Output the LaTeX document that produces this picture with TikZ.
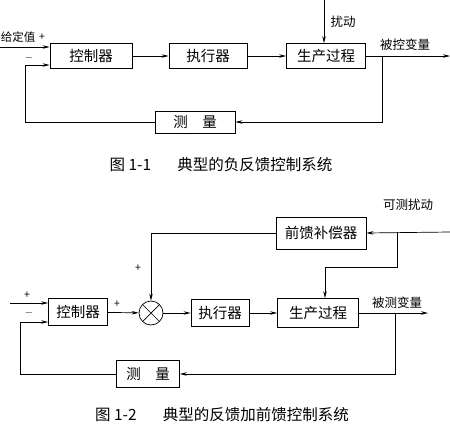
\documentclass[tikz,border=0pt]{standalone}
\usepackage{fontspec}
\setmainfont{Noto Sans CJK SC}
\usetikzlibrary{arrows.meta,calc}

\begin{document}
\begin{tikzpicture}[x=1pt,y=-1pt,
    blk/.style={draw, minimum height=25pt, inner sep=2pt, font=\fontsize{14.5pt}{16pt}\selectfont},
    lbl/.style={inner sep=1pt, font=\fontsize{12.5pt}{14pt}\selectfont},
    sgn/.style={inner sep=0pt, font=\fontsize{10.5pt}{12pt}\selectfont},
    figcap/.style={font=\fontsize{15.5pt}{17pt}\selectfont},
    every path/.style={line width=0.7pt},
    >={Stealth[length=7pt,width=3.5pt]}]
    \useasboundingbox (0,0) rectangle (450,437);

    % Fig 1-1: negative feedback loop
    \node[blk, minimum width=82pt] (ctrl) at (91,56) {控制器};
    \node[blk, minimum width=78pt] (exec) at (208,56) {执行器};
    \node[blk, minimum width=79pt] (proc) at (326,56) {生产过程};
    \node[blk, minimum width=80pt, minimum height=22pt] (meas) at (195,122) {测\quad 量};
    \coordinate (in1) at (0,47);
    \coordinate (out1) at (450,56);
    \coordinate (br1) at (382,56);
    \coordinate (fb1) at (25,65);
    \coordinate (d1) at (324,0);
    \draw[->] (in1) -- (in1 -| ctrl.west);
    \draw[->] (ctrl) -- (exec);
    \draw[->] (exec) -- (proc);
    \draw[->] (proc) -- (out1);
    \draw[->] (br1) |- (meas.east);
    \draw[->] (meas.west) -| (fb1) -- (fb1 -| ctrl.west);
    \draw[->] (d1) -- (d1 |- proc.north);
    \node[lbl, anchor=west, inner sep=0pt, font=\fontsize{11.5pt}{13pt}\selectfont] (sp1) at (0.5,37) {给定值};
    \node[sgn] (p1) at (42,37) {+};
    \node[sgn] (m1) at (29,58) {$-$};
    \node[lbl] (dist1) at (343,22) {扰动};
    \node[lbl] (cv1) at (405,45) {被控变量};
    \node[figcap] (cap1) at (221,165) {图 1-1\hspace{1.7em}典型的负反馈控制系统};

    % Fig 1-2: feedback plus feedforward
    \node[blk, minimum width=59pt, minimum height=27pt] (ctrl2) at (78,312) {控制器};
    \node[draw, circle, minimum size=24pt, inner sep=0pt,
          path picture={\draw (path picture bounding box.north west) -- (path picture bounding box.south east)
                              (path picture bounding box.north east) -- (path picture bounding box.south west);}]
          (sum) at (151,313) {};
    \node[blk, minimum width=58pt, minimum height=27pt] (exec2) at (220,313) {执行器};
    \node[blk, minimum width=81pt, minimum height=29pt] (proc2) at (318,313) {生产过程};
    \node[blk, minimum width=63pt, minimum height=27pt] (meas2) at (148,374) {测\quad 量};
    \node[blk, minimum width=90pt, minimum height=32pt] (ff) at (321,233) {前馈补偿器};
    \coordinate (in2) at (10,303);
    \coordinate (out2) at (428,313);
    \coordinate (br2) at (395,313);
    \coordinate (fb2) at (20,322);
    \coordinate (d2) at (450,232);
    \coordinate (br3) at (397,232);
    \coordinate (k2) at (325,267);
    \draw[->] (in2) -- (in2 -| ctrl2.west);
    \draw[->] (ctrl2) -- (sum);
    \draw[->] (sum) -- (exec2);
    \draw[->] (exec2) -- (proc2);
    \draw[->] (proc2) -- (out2);
    \draw[->] (br2) |- (meas2.east);
    \draw[->] (meas2.west) -| (fb2) -- (fb2 -| ctrl2.west);
    \draw[->] (d2) -- (ff.east);
    \draw[->] (ff.west) -| (sum.north);
    \draw[->] (br3) |- (k2) -- (k2 |- proc2.north);
    \node[sgn] (p2) at (27,295) {+};
    \node[sgn] (m2) at (29,313) {$-$};
    \node[sgn] (p3) at (117,304) {+};
    \node[sgn] (p4) at (138,268) {+};
    \node[lbl] (dist2) at (408,205) {可测扰动};
    \node[lbl] (cv2) at (397,303) {被测变量};
    \node[figcap] (cap2) at (222,415) {图 1-2\hspace{1.7em}典型的反馈加前馈控制系统};
\end{tikzpicture}
\end{document}
